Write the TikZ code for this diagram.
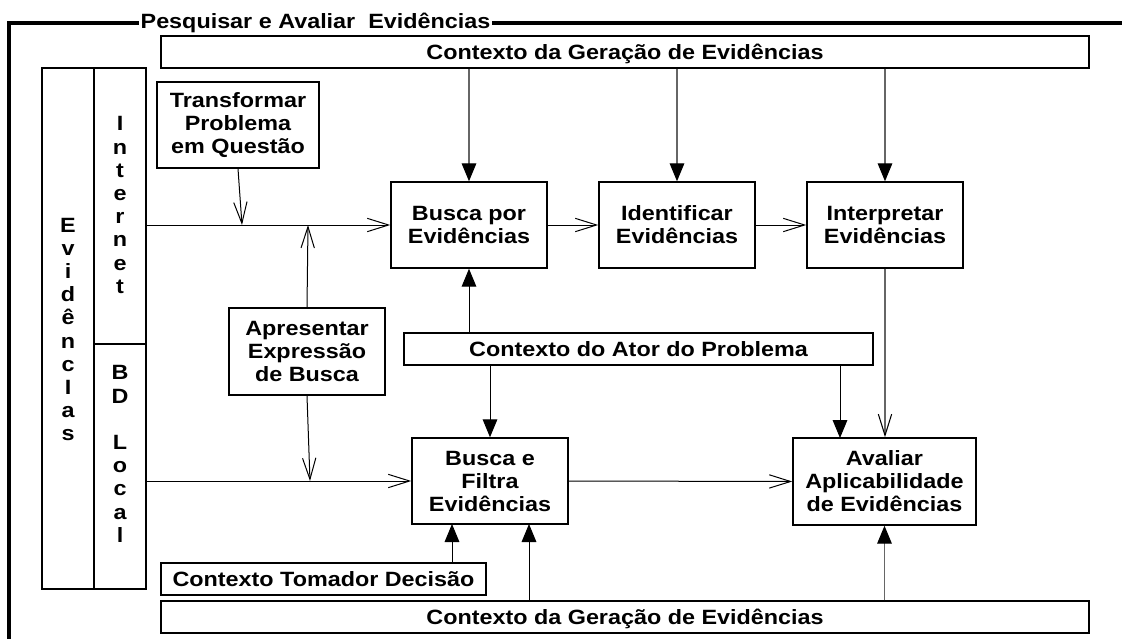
\documentclass[tikz,border=0pt]{standalone}
\usepackage{fontspec}
\setmainfont{Liberation Sans}[FakeStretch=1.13]
\usetikzlibrary{arrows.meta}
\definecolor{linegray}{gray}{0.4}
\begin{document}
\begin{tikzpicture}[x=0.75pt,y=-0.75pt,
  every node/.style={font=\fontsize{15.5pt}{17.25pt}\selectfont\bfseries},
  box/.style={draw, line width=1.1pt, inner sep=0pt, align=center},
  bar/.style={box, text height=11.1pt, text depth=0pt},
  vtext/.style={align=center, inner sep=0pt, font=\fontsize{15.5pt}{17.4pt}\selectfont\bfseries},
  cline/.style={line width=0.75pt, draw=black},
  gline/.style={line width=0.8pt, draw=linegray},
  solidtip/.tip={Triangle[length=13.5pt,width=11pt,color=black]},
  opentip/.tip={Straight Barb[length=16pt,width=10pt,color=black]},
  frame/.style={line width=2.3pt}
]
\useasboundingbox (0,0) rectangle (1122,639);
\begin{scope}
\clip (0,0) rectangle (1122,639);
\draw[frame] (9,650) -- (9,23) -- (1130,23);
\end{scope}
\node[fill=white, inner sep=1pt, anchor=base] (title) at (315.5,28.5) {Pesquisar e Avaliar\ \ Evidências};

% boxes
\node[bar, minimum width=696pt, minimum height=24pt] (ctxTop) at (625,52) {Contexto da Geração de Evidências};
\node[box, minimum width=39pt, minimum height=390.75pt] (evid) at (68,328.5) {};
\node[box, minimum width=39pt, minimum height=207pt] (internet) at (120,206) {};
\node[box, minimum width=39pt, minimum height=183.75pt] (bd) at (120,466.5) {};
\node[vtext] (evidtxt) at (68,329.5) {E\\v\\i\\d\\ê\\n\\c\\I\\a\\s};
\node[vtext] (internettxt) at (120,205) {I\\n\\t\\e\\r\\n\\e\\t};
\node[vtext] (bdtxt) at (120,454) {B\\D\\{}\\L\\o\\c\\a\\l};

\node[box, minimum width=121.5pt, minimum height=64.5pt] (transf) at (238,125) {Transformar\\Problema\\em Questão};
\node[box, minimum width=117pt, minimum height=65.25pt] (apres) at (307,351.5) {Apresentar\\Expressão\\de Busca};
\node[box, minimum width=117pt, minimum height=64.5pt] (busca) at (469,225) {Busca por\\Evidências};
\node[box, minimum width=117pt, minimum height=64.5pt] (ident) at (677,225) {Identificar\\Evidências};
\node[box, minimum width=117pt, minimum height=64.5pt] (interp) at (885,225) {Interpretar\\Evidências};
\node[bar, minimum width=351.75pt, minimum height=24pt] (ator) at (638.5,349) {Contexto do Ator do Problema};
\node[box, minimum width=117pt, minimum height=64.5pt] (filtra) at (490,481) {Busca e\\Filtra\\Evidências};
\node[box, minimum width=137.25pt, minimum height=65.25pt] (avaliar) at (884.5,481.5) {Avaliar\\Aplicabilidade\\de Evidências};
\node[bar, minimum width=243.75pt, minimum height=24pt] (tomador) at (323.5,579) {Contexto Tomador Decisão};
\node[bar, minimum width=696pt, minimum height=24pt] (ctxBot) at (625,617) {Contexto da Geração de Evidências};

% junction coordinates
\coordinate (j1) at (242,225);
\coordinate (j2) at (308,225);
\coordinate (j3) at (310,481);
\coordinate (xa) at (840,438);
\coordinate (xt) at (452,524);
\coordinate (xb) at (529,524);

% connectors
\draw[gline,-solidtip] (ctxTop.south -| busca.north) -- (busca.north);
\draw[gline,-solidtip] (ctxTop.south -| ident.north) -- (ident.north);
\draw[gline,-solidtip] (ctxTop.south -| interp.north) -- (interp.north);
\draw[cline,-opentip] (internet.east |- busca.west) -- (busca.west);
\draw[cline,-opentip] (transf.south) -- (j1);
\draw[cline,-opentip] (apres.north) -- (j2);
\draw[cline,-opentip] (busca.east) -- (ident.west);
\draw[cline,-opentip] (ident.east) -- (interp.west);
\draw[cline,-solidtip] (ator.north -| busca.south) -- (busca.south);
\draw[cline,-solidtip] (ator.south -| filtra.north) -- (filtra.north);
\draw[cline,-solidtip] (ator.south -| xa) -- (xa);
\draw[gline,-opentip] (interp.south) -- (interp.south |- avaliar.north);
\draw[cline,-opentip] (bd.east |- filtra.west) -- (filtra.west);
\draw[cline,-opentip] (apres.south) -- (j3);
\draw[cline,-opentip] (filtra.east) -- (avaliar.west);
\draw[cline,-solidtip] (tomador.north -| xt) -- (xt);
\draw[cline,-solidtip] (ctxBot.north -| xb) -- (xb);
\draw[gline,-solidtip] (ctxBot.north -| avaliar.south) -- (avaliar.south);
\end{tikzpicture}
\end{document}
